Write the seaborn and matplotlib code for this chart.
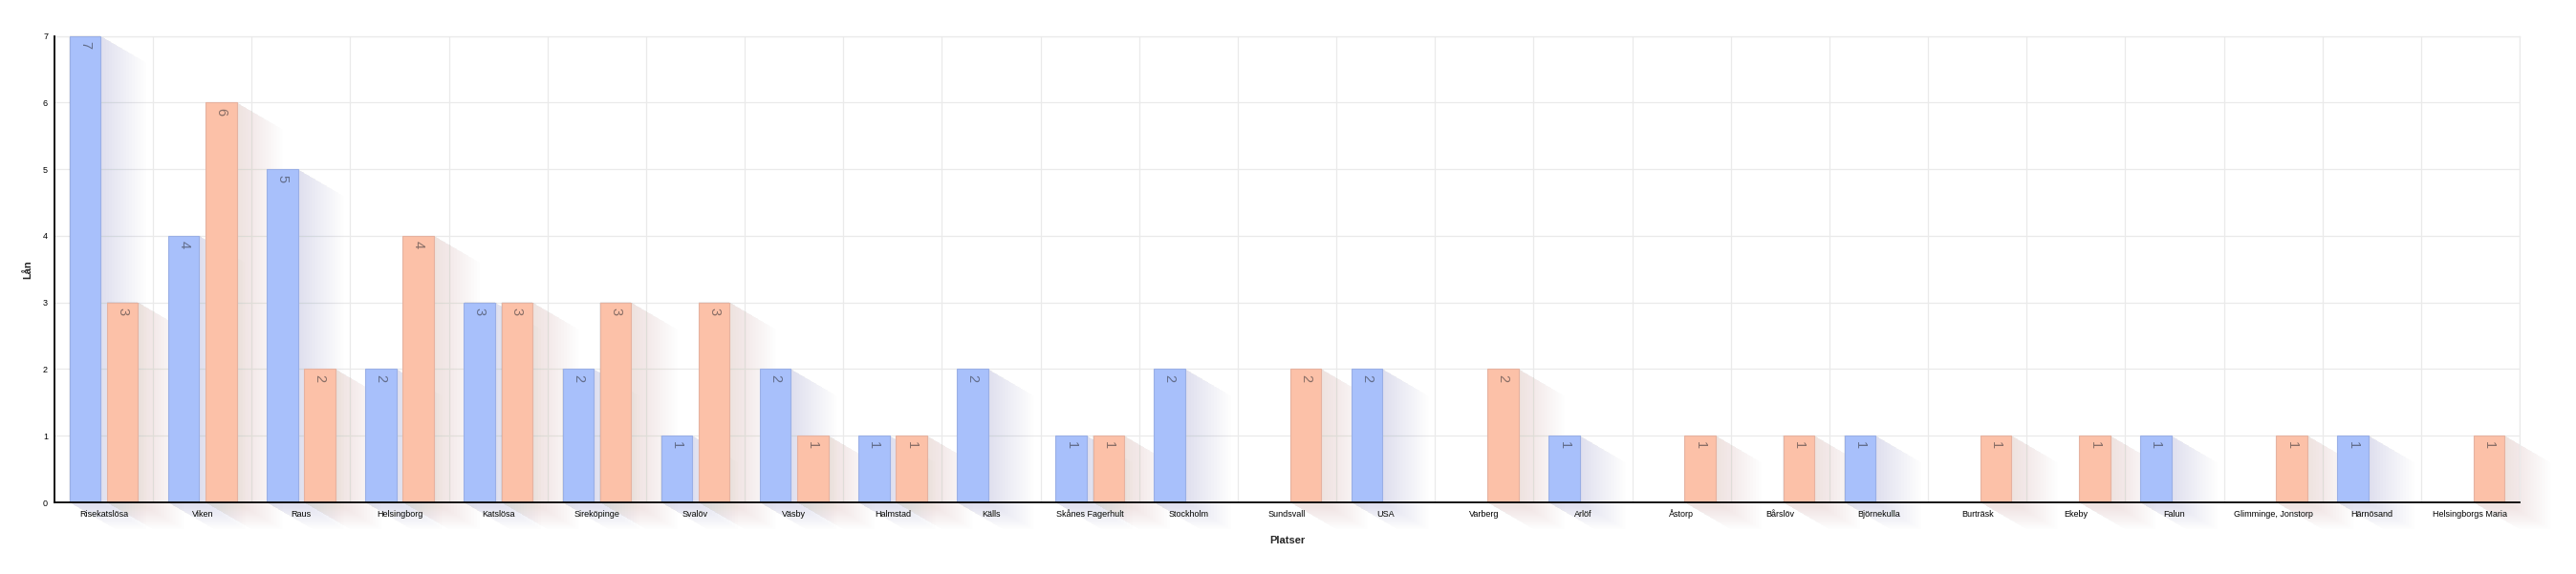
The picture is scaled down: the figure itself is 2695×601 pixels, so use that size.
import numpy as np
import pandas as pd
import matplotlib
matplotlib.use("Agg")
import matplotlib.pyplot as plt
from matplotlib.patches import Polygon
import seaborn as sns

# ---- data ----
places = ["Risekatslösa", "Viken", "Raus", "Helsingborg", "Katslösa", "Sireköpinge",
          "Svalöv", "Väsby", "Halmstad", "Källs", "Skånes Fagerhult", "Stockholm",
          "Sundsvall", "USA", "Varberg", "Arlöf", "Åstorp", "Bårslöv", "Björnekulla",
          "Burträsk", "Ekeby", "Falun", "Glimminge, Jonstorp", "Härnösand",
          "Helsingborgs Maria"]
series_a = [7, 4, 5, 2, 3, 2, 1, 2, 1, 2, 1, 2, 0, 2, 0, 1, 0, 0, 1, 0, 0, 1, 0, 1, 0]
series_b = [3, 6, 2, 4, 3, 3, 3, 1, 1, 0, 1, 0, 2, 0, 2, 0, 1, 1, 0, 1, 1, 0, 1, 0, 1]
series_names = ["Serie 1", "Serie 2"]
y_ticks = [0, 1, 2, 3, 4, 5, 6, 7]

df = pd.DataFrame({
    "Platser": places * 2,
    "Lån": series_a + series_b,
    "serie": [series_names[0]] * len(places) + [series_names[1]] * len(places),
})

BLUE = "#A8C0FB"
ORANGE = "#FCC1A8"
BLUE_EDGE = "#9AAFE6"
ORANGE_EDGE = "#E6B2A0"

sns.set_theme(style="white")
plt.rcParams["font.family"] = ["Liberation Sans", "DejaVu Sans"]

W, H = 2695, 601
fig = plt.figure(figsize=(W / 100, H / 100), dpi=100)
L, R, T, B = 57, 2636, 37.7, 526
ax = fig.add_axes([L / W, (H - B) / H, (R - L) / W, (B - T) / H])

sns.barplot(data=df, x="Platser", y="Lån", hue="serie", hue_order=series_names,
            palette=[BLUE, ORANGE], saturation=1, width=0.76, gap=0.17,
            legend=False, ax=ax, zorder=3, err_kws={"linewidth": 0})

n = len(places)
ax.set_xlim(-0.5, n - 0.5)
ax.set_ylim(0, 7)
ax.set_yticks(y_ticks)

# pixel scale for shadows
px_x = (R - L) / n
px_y = (B - T) / 7.0

shadow_cols = ["#56607E", "#7E685E"]
edge_cols = [BLUE_EDGE, ORANGE_EDGE]
NL = 16
for ci, cont in enumerate(ax.containers):
    for bar in cont:
        h = bar.get_height()
        bar.set_edgecolor(edge_cols[ci])
        bar.set_linewidth(0.8)
        if not h or h <= 0:
            continue
        xl = bar.get_x()
        xr = xl + bar.get_width()
        for k in range(1, NL + 1):
            t = k / NL
            a = t * 48 / px_x
            b = t * 28 / px_y
            poly = Polygon([(xl, h), (xr, h), (xr + a, h - b), (xr + a, -b),
                            (xl + a, -b), (xl, 0)], closed=True,
                           facecolor=shadow_cols[ci], edgecolor="none",
                           alpha=0.0095, zorder=1.5, clip_on=False)
            ax.add_patch(poly)
        ax.text(xl + bar.get_width() / 2, h - 0.135, f"{int(h)}", rotation=-90,
                rotation_mode="anchor", ha="center", va="center",
                fontsize=10.5, color="#2a2a30", alpha=0.55, zorder=4)

# grid
ax.set_xticks(np.arange(n) + 0.5, minor=True)
ax.grid(True, which="minor", axis="x", color="#EAEAEA", linewidth=0.9, zorder=0)
ax.grid(True, which="major", axis="y", color="#EAEAEA", linewidth=0.9, zorder=0)
ax.grid(False, which="major", axis="x")
ax.set_axisbelow(True)

for s in ["top", "right"]:
    ax.spines[s].set_color("#EAEAEA")
    ax.spines[s].set_linewidth(0.9)
for s in ["left", "bottom"]:
    ax.spines[s].set_color("black")
    ax.spines[s].set_linewidth(1.3)
    ax.spines[s].set_zorder(5)

ax.tick_params(axis="both", which="both", length=0)
ax.tick_params(axis="x", pad=10.8, labelsize=6.5, colors="black")
ax.tick_params(axis="y", pad=5, labelsize=6.5, colors="black")
for lab in ax.get_xticklabels():
    lab.set_verticalalignment("baseline")

ax.set_xlabel("Platser", fontsize=8, fontweight="bold", labelpad=13)
ax.set_ylabel("Lån", fontsize=8, fontweight="bold", labelpad=8)

fig.savefig("out.png", dpi=100, facecolor="white")
